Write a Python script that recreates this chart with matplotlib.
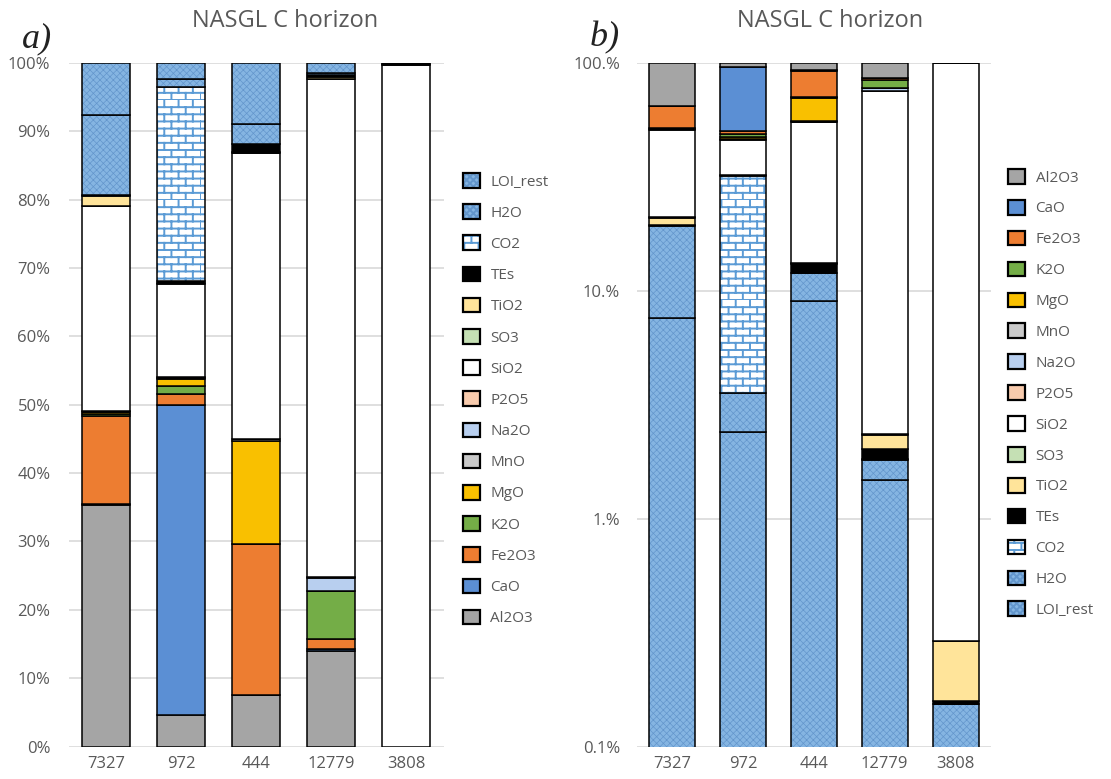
import warnings
import numpy as np
import matplotlib
matplotlib.use('Agg')
import matplotlib.pyplot as plt
from matplotlib import hatch as mhatch
from matplotlib.path import Path
from matplotlib.patches import Patch
from matplotlib.ticker import NullLocator

warnings.filterwarnings('ignore', message='hatch must consist')

# samples (NASGL C horizon), values in wt.%
samples = ['7327', '972', '444', '12779', '3808']
components = ['Al2O3', 'CaO', 'Fe2O3', 'K2O', 'MgO', 'MnO', 'Na2O', 'P2O5',
              'SiO2', 'SO3', 'TiO2', 'TEs', 'CO2', 'H2O', 'LOI_rest']

al2o3 = [35.3, 4.7, 7.5, 14.0, 0.0]
cao = [0.2, 45.3, 0.1, 0.3, 0.0]
fe2o3 = [12.9, 1.5, 22.0, 1.5, 0.0]
k2o = [0.3, 1.3, 0.05, 6.9, 0.0]
mgo = [0.2, 1.0, 15.0, 0.1, 0.0]
mno = [0.05, 0.05, 0.3, 0.02, 0.0]
na2o = [0.1, 0.1, 0.05, 1.9, 0.0]
p2o5 = [0.05, 0.05, 0.05, 0.05, 0.0]
sio2 = [30.0, 13.7, 41.8, 72.9, 99.7]
so3 = [0.02, 0.05, 0.02, 0.02, 0.0]
tio2 = [1.5, 0.1, 0.1, 0.3, 0.132]
tes = [0.1, 0.3, 1.1, 0.2, 0.005]
co2 = [0.05, 28.3, 0.05, 0.02, 0.0]
h2o = [11.7, 1.15, 2.9, 0.33, 0.0]
loi_rest = [7.6, 2.4, 9.0, 1.48, 0.154]


# brick pattern for CO2 (limestone symbol)
class BrickHatch(mhatch.HatchPatternBase):
    rows = 14
    cols = 7

    def __init__(self, hatch, density):
        self.num_vertices = self.rows * (2 + 2 * self.cols) if 'B' in hatch else 0

    def set_vertices_and_codes(self, vertices, codes):
        v = []
        for r in range(self.rows):
            y0 = r / self.rows
            y1 = (r + 1) / self.rows
            v += [(0, y0), (1, y0)]
            shift = 0.5 / self.cols if r % 2 else 0
            for c in range(self.cols):
                xx = c / self.cols + shift
                v += [(xx, y0), (xx, y1)]
        vertices[:] = v
        codes[0::2] = Path.MOVETO
        codes[1::2] = Path.LINETO


mhatch._hatch_types.append(BrickHatch)

styles = {
    'Al2O3': dict(face='#A5A5A5'),
    'CaO': dict(face='#5B8FD4'),
    'Fe2O3': dict(face='#ED7D31'),
    'K2O': dict(face='#74AD47'),
    'MgO': dict(face='#F9C000'),
    'MnO': dict(face='#C9C9C9'),
    'Na2O': dict(face='#B8CFEF'),
    'P2O5': dict(face='#F8CBAD'),
    'SiO2': dict(face='white'),
    'SO3': dict(face='#C5E0B4'),
    'TiO2': dict(face='#FFE49A'),
    'TEs': dict(face='black'),
    'CO2': dict(face='white', hatch='B', hcolor='#5B9BD5', hlw=1.4),
    'H2O': dict(face='#85B5E2', hatch='xxxxx', hcolor='#6396CC', hlw=0.5),
    'LOI_rest': dict(face='#85B5E2', hatch='xxxxx', hcolor='#6396CC', hlw=0.5),
}

plt.rcParams['font.family'] = ['Open Sans', 'DejaVu Sans']
plt.rcParams['hatch.linewidth'] = 1.4
grey = '#595959'


def draw_segment(ax, x, heights, bottoms, name, width):
    st = styles[name]
    if 'hatch' in st:
        bars = ax.bar(x, heights, width, bottom=bottoms, facecolor=st['face'],
                      edgecolor=st['hcolor'], hatch=st['hatch'], linewidth=0)
        for p in bars:
            if hasattr(p, 'set_hatch_linewidth'):
                p.set_hatch_linewidth(st['hlw'])
        ax.bar(x, heights, width, bottom=bottoms, fill=False,
               edgecolor='black', linewidth=1.1)
    else:
        ax.bar(x, heights, width, bottom=bottoms, facecolor=st['face'],
               edgecolor='black', linewidth=1.1)


def legend_handle(name):
    st = styles[name]
    if 'hatch' in st:
        inner = Patch(facecolor=st['face'], edgecolor=st['hcolor'],
                      hatch=st['hatch'], linewidth=0)
        if hasattr(inner, 'set_hatch_linewidth'):
            inner.set_hatch_linewidth(st['hlw'])
        outer = Patch(fill=False, edgecolor='black', linewidth=1.6)
        return (inner, outer)
    return Patch(facecolor=st['face'], edgecolor='black', linewidth=1.6)


def style_axes(ax):
    for s in ax.spines.values():
        s.set_visible(False)
    ax.set_axisbelow(True)
    ax.yaxis.grid(True, color='#D9D9D9', linewidth=1.2)
    ax.tick_params(length=0, labelsize=12, colors=grey)
    ax.tick_params(axis='x', pad=7)
    ax.set_xlim(-0.5, len(samples) - 0.5)
    ax.set_xticks(range(len(samples)))
    ax.set_xticklabels(samples)


data = np.array([al2o3, cao, fe2o3, k2o, mgo, mno, na2o, p2o5, sio2, so3,
                 tio2, tes, co2, h2o, loi_rest], dtype=float)
data = data / data.sum(axis=0) * 100
x = np.arange(len(samples))

fig = plt.figure(figsize=(11.11, 7.79), dpi=100)
ax_a = fig.add_axes([0.0617, 0.0415, 0.3375, 0.878])
ax_b = fig.add_axes([0.573, 0.0415, 0.319, 0.878])

# a) 100 % stacked, Al2O3 at the bottom
bottom = np.zeros(len(samples))
for name, vals in zip(components, data):
    draw_segment(ax_a, x, vals, bottom, name, 0.64)
    bottom = bottom + vals
style_axes(ax_a)
ax_a.set_ylim(0, 100)
ax_a.set_yticks(range(0, 101, 10))
ax_a.set_yticklabels([f'{v}%' for v in range(0, 101, 10)])
ax_a.tick_params(axis='y', pad=13)

# b) log scale, reversed stacking (LOI_rest at the bottom)
tops = np.cumsum(data[::-1], axis=0)
for name, vals, top in zip(components[::-1], data[::-1], tops):
    bot = top - vals
    bot = np.where(bot <= 0, 0.01, bot)
    draw_segment(ax_b, x, top - bot, bot, name, 0.65)
style_axes(ax_b)
ax_b.set_yscale('log')
ax_b.set_ylim(0.1, 100)
ax_b.set_yticks([0.1, 1, 10, 100])
ax_b.set_yticklabels(['0.1%', '1.%', '10.%', '100.%'])
ax_b.yaxis.set_minor_locator(NullLocator())
ax_b.tick_params(axis='y', pad=12)

W, H = 1111, 779
for cx in (285, 830):
    fig.text(cx / W, 1 - 21 / H, 'NASGL C horizon', ha='center', va='center',
             fontsize=17, color=grey)
fig.text(22 / W, 1 - 47 / H, 'a)', fontsize=26, family='Liberation Serif',
         style='italic', color='#222222', va='baseline')
fig.text(590 / W, 1 - 46 / H, 'b)', fontsize=26, family='Liberation Serif',
         style='italic', color='#222222', va='baseline')

leg_kw = dict(loc='upper left', frameon=False, fontsize=11, handlelength=1.1,
              handleheight=1.1, handletextpad=0.7, labelspacing=0.96,
              borderaxespad=0, borderpad=0, labelcolor=grey)
order_a = components[::-1]
fig.legend([legend_handle(n) for n in order_a], order_a,
           bbox_to_anchor=(463 / W, 1 - 173 / H), **leg_kw)
order_b = components
leg_kw['labelspacing'] = 0.94
fig.legend([legend_handle(n) for n in order_b], order_b,
           bbox_to_anchor=(1008 / W, 1 - 169 / H), **leg_kw)

fig.savefig('out.png', dpi=100)
